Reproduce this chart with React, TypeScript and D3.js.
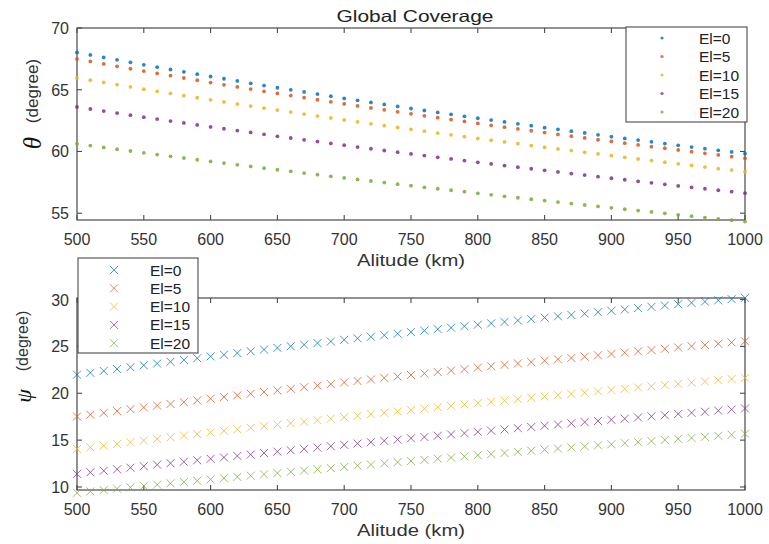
import React from 'react';
import * as d3 from 'd3';

const altitude = [500, 510, 520, 530, 540, 550, 560, 570, 580, 590, 600, 610, 620, 630, 640, 650, 660, 670, 680, 690, 700, 710, 720, 730, 740, 750, 760, 770, 780, 790, 800, 810, 820, 830, 840, 850, 860, 870, 880, 890, 900, 910, 920, 930, 940, 950, 960, 970, 980, 990, 1000];

const elLabels = ['El=0', 'El=5', 'El=10', 'El=15', 'El=20'];
const colors = ['#0072BD', '#D95319', '#EDB120', '#7E2F8E', '#77AC30'];

const theta0 = [68.02, 67.82, 67.62, 67.42, 67.22, 67.02, 66.83, 66.64, 66.45, 66.26, 66.07, 65.89, 65.71, 65.52, 65.34, 65.16, 64.99, 64.82, 64.65, 64.48, 64.30, 64.14, 63.97, 63.81, 63.65, 63.48, 63.32, 63.16, 63.01, 62.85, 62.69, 62.54, 62.39, 62.24, 62.09, 61.93, 61.79, 61.64, 61.50, 61.35, 61.20, 61.06, 60.92, 60.78, 60.64, 60.50, 60.36, 60.23, 60.09, 59.96, 59.82];
const theta5 = [67.48, 67.29, 67.09, 66.90, 66.70, 66.51, 66.32, 66.14, 65.95, 65.77, 65.58, 65.40, 65.23, 65.05, 64.87, 64.70, 64.53, 64.36, 64.19, 64.02, 63.85, 63.69, 63.53, 63.37, 63.21, 63.05, 62.89, 62.74, 62.58, 62.43, 62.27, 62.12, 61.97, 61.83, 61.68, 61.53, 61.38, 61.24, 61.10, 60.95, 60.81, 60.67, 60.53, 60.39, 60.26, 60.12, 59.98, 59.85, 59.72, 59.58, 59.45];
const theta10 = [65.95, 65.77, 65.59, 65.41, 65.23, 65.04, 64.87, 64.70, 64.52, 64.35, 64.18, 64.01, 63.84, 63.68, 63.51, 63.35, 63.19, 63.03, 62.87, 62.71, 62.55, 62.40, 62.24, 62.09, 61.94, 61.79, 61.64, 61.49, 61.35, 61.20, 61.05, 60.91, 60.77, 60.63, 60.48, 60.34, 60.21, 60.07, 59.93, 59.80, 59.66, 59.53, 59.39, 59.26, 59.13, 59.00, 58.87, 58.74, 58.61, 58.49, 58.36];
const theta15 = [63.60, 63.44, 63.27, 63.11, 62.94, 62.78, 62.62, 62.46, 62.31, 62.15, 61.99, 61.84, 61.69, 61.54, 61.39, 61.23, 61.09, 60.94, 60.80, 60.65, 60.51, 60.36, 60.22, 60.08, 59.94, 59.80, 59.67, 59.53, 59.40, 59.26, 59.12, 58.99, 58.86, 58.73, 58.60, 58.47, 58.34, 58.21, 58.09, 57.96, 57.83, 57.71, 57.58, 57.46, 57.34, 57.21, 57.09, 56.98, 56.86, 56.74, 56.62];
const theta20 = [60.62, 60.48, 60.33, 60.18, 60.04, 59.89, 59.75, 59.61, 59.47, 59.33, 59.19, 59.06, 58.92, 58.79, 58.65, 58.52, 58.39, 58.25, 58.12, 57.99, 57.86, 57.73, 57.61, 57.48, 57.35, 57.23, 57.10, 56.98, 56.86, 56.74, 56.61, 56.49, 56.37, 56.25, 56.13, 56.02, 55.90, 55.78, 55.67, 55.55, 55.44, 55.32, 55.21, 55.10, 54.99, 54.87, 54.76, 54.65, 54.54, 54.43, 54.32];

const psi0 = [21.98, 22.18, 22.38, 22.58, 22.78, 22.98, 23.17, 23.36, 23.55, 23.74, 23.93, 24.11, 24.29, 24.48, 24.66, 24.84, 25.01, 25.18, 25.35, 25.52, 25.70, 25.86, 26.03, 26.19, 26.35, 26.52, 26.68, 26.84, 26.99, 27.15, 27.31, 27.46, 27.61, 27.76, 27.91, 28.07, 28.21, 28.36, 28.50, 28.65, 28.80, 28.94, 29.08, 29.22, 29.36, 29.50, 29.64, 29.77, 29.91, 30.04, 30.18];
const psi5 = [17.52, 17.71, 17.91, 18.10, 18.30, 18.49, 18.68, 18.86, 19.05, 19.24, 19.42, 19.60, 19.77, 19.95, 20.13, 20.30, 20.47, 20.64, 20.81, 20.98, 21.15, 21.31, 21.47, 21.63, 21.79, 21.95, 22.11, 22.26, 22.42, 22.57, 22.73, 22.88, 23.03, 23.18, 23.32, 23.47, 23.62, 23.76, 23.90, 24.05, 24.19, 24.33, 24.47, 24.61, 24.74, 24.88, 25.02, 25.15, 25.28, 25.42, 25.55];
const psi10 = [14.05, 14.23, 14.41, 14.59, 14.78, 14.96, 15.13, 15.30, 15.48, 15.65, 15.83, 15.99, 16.16, 16.32, 16.49, 16.66, 16.81, 16.97, 17.13, 17.29, 17.45, 17.60, 17.76, 17.91, 18.06, 18.21, 18.36, 18.51, 18.66, 18.80, 18.95, 19.09, 19.23, 19.37, 19.52, 19.66, 19.80, 19.93, 20.07, 20.21, 20.34, 20.47, 20.61, 20.74, 20.87, 21.00, 21.13, 21.26, 21.39, 21.52, 21.64];
const psi15 = [11.40, 11.57, 11.73, 11.89, 12.06, 12.22, 12.38, 12.54, 12.69, 12.85, 13.01, 13.16, 13.31, 13.46, 13.62, 13.77, 13.91, 14.06, 14.20, 14.35, 14.50, 14.64, 14.78, 14.92, 15.06, 15.20, 15.33, 15.47, 15.61, 15.74, 15.88, 16.01, 16.14, 16.27, 16.40, 16.53, 16.66, 16.79, 16.92, 17.04, 17.17, 17.29, 17.42, 17.54, 17.66, 17.79, 17.91, 18.03, 18.15, 18.26, 18.38];
const psi20 = [9.38, 9.53, 9.67, 9.82, 9.96, 10.11, 10.25, 10.39, 10.53, 10.67, 10.81, 10.94, 11.08, 11.21, 11.35, 11.48, 11.62, 11.75, 11.88, 12.01, 12.14, 12.27, 12.39, 12.52, 12.65, 12.77, 12.90, 13.02, 13.14, 13.27, 13.39, 13.51, 13.63, 13.75, 13.87, 13.99, 14.10, 14.22, 14.33, 14.45, 14.56, 14.68, 14.79, 14.90, 15.02, 15.13, 15.24, 15.35, 15.46, 15.57, 15.68];

const xTicks = [500, 550, 600, 650, 700, 750, 800, 850, 900, 950, 1000];
const thetaTicks = [55, 60, 65, 70];
const psiTicks = [10, 15, 20, 25, 30];

const thetaSeries = [theta0, theta5, theta10, theta15, theta20];
const psiSeries = [psi0, psi5, psi10, psi15, psi20];

const FONT = '"Liberation Sans", Arial, Helvetica, sans-serif';
const AXIS = '#4a4a4a';
const TEXT = '#333333';

function Cross({ cx, cy, s, color, opacity }: { cx: number; cy: number; s: number; color: string; opacity: number }) {
  return (
    <path
      d={`M${cx - s},${cy - s}L${cx + s},${cy + s}M${cx - s},${cy + s}L${cx + s},${cy - s}`}
      stroke={color}
      strokeWidth={1}
      strokeOpacity={opacity}
      fill="none"
    />
  );
}

function Axes({ x, y, yTicks, top, bottom }: { x: any; y: any; yTicks: number[]; top: number; bottom: number }) {
  const [x0, x1] = x.range();
  const tl = 5;
  return (
    <g>
      <rect x={x0} y={top} width={x1 - x0} height={bottom - top} fill="none" stroke={AXIS} strokeWidth={1.2} />
      {xTicks.map((t) => (
        <g key={'x' + t}>
          <line x1={x(t)} x2={x(t)} y1={bottom} y2={bottom - tl} stroke={AXIS} strokeWidth={1.1} />
          <line x1={x(t)} x2={x(t)} y1={top} y2={top + tl} stroke={AXIS} strokeWidth={1.1} />
          <text x={x(t)} y={bottom + 25} textAnchor="middle" fontFamily={FONT} fontSize={16} fill={TEXT}>
            {t}
          </text>
        </g>
      ))}
      {yTicks.map((t) => (
        <g key={'y' + t}>
          <line x1={x0} x2={x0 + tl} y1={y(t)} y2={y(t)} stroke={AXIS} strokeWidth={1.1} />
          <line x1={x1} x2={x1 - tl} y1={y(t)} y2={y(t)} stroke={AXIS} strokeWidth={1.1} />
          <text x={69} y={y(t) + 6} textAnchor="end" fontFamily={FONT} fontSize={16} fill={TEXT}>
            {t}
          </text>
        </g>
      ))}
    </g>
  );
}

export default function App() {
  const x = d3.scaleLinear().domain([500, 1000]).range([77, 745]);
  const yT = d3.scaleLinear().domain([54.45, 70]).range([220, 28]);
  const yP = d3.scaleLinear().domain([9.68, 30.16]).range([490, 298]);

  return (
    <svg width={769} height={544} style={{ position: 'absolute', left: 0, top: 0, background: '#fff' }}>
      <rect width={769} height={544} fill="#fff" />

      {/* Top plot */}
      <Axes x={x} y={yT} yTicks={thetaTicks} top={28} bottom={220} />
      {thetaSeries.map((s, i) => (
        <g key={'ts' + i}>
          {s.map((v, j) => (
            <circle key={j} cx={x(altitude[j])} cy={yT(v)} r={1.9} fill={colors[i]} fillOpacity={0.85} />
          ))}
        </g>
      ))}
      <text x={415} y={22} textAnchor="middle" fontFamily={FONT} fontSize={16.5} fill="#222" textLength={157} lengthAdjust="spacingAndGlyphs">
        Global Coverage
      </text>
      <text x={411} y={266} textAnchor="middle" fontFamily={FONT} fontSize={16} fill={TEXT} textLength={108} lengthAdjust="spacingAndGlyphs">
        Alitude (km)
      </text>
      <text transform="translate(38,91) rotate(-90)" textAnchor="middle" fontFamily={FONT} fontSize={17} fill={TEXT}>
        (degree)
      </text>
      <text transform="translate(41,143) rotate(-90)" textAnchor="middle" fontFamily='"Liberation Serif", "DejaVu Serif", serif' fontStyle="italic" fontSize={25} fill="#111">
        θ
      </text>

      {/* Top legend */}
      <g>
        <rect x={626} y={27} width={121} height={95} fill="#fff" stroke={AXIS} strokeWidth={1.1} />
        {elLabels.map((l, i) => (
          <g key={'tl' + i}>
            <circle cx={662} cy={38 + i * 18.5} r={1.6} fill={colors[i]} fillOpacity={0.8} />
            <text x={699} y={38 + i * 18.5 + 5.5} fontFamily={FONT} fontSize={15.5} fill="#222">
              {l}
            </text>
          </g>
        ))}
      </g>

      {/* Bottom plot */}
      <Axes x={x} y={yP} yTicks={psiTicks} top={298} bottom={490} />
      {psiSeries.map((s, i) => (
        <g key={'ps' + i}>
          {s.map((v, j) => (
            <Cross key={j} cx={x(altitude[j])} cy={yP(v)} s={4} color={colors[i]} opacity={0.75} />
          ))}
        </g>
      ))}
      <text x={411} y={536} textAnchor="middle" fontFamily={FONT} fontSize={16} fill={TEXT} textLength={108} lengthAdjust="spacingAndGlyphs">
        Alitude (km)
      </text>
      <text transform="translate(28,341) rotate(-90)" textAnchor="middle" fontFamily={FONT} fontSize={16} fill={TEXT}>
        (degree)
      </text>
      <text transform="translate(31,396) rotate(-90)" textAnchor="middle" fontFamily='"Liberation Serif", "DejaVu Serif", serif' fontStyle="italic" fontSize={22} fill="#111">
        ψ
      </text>

      {/* Bottom legend */}
      <g>
        <rect x={78} y={258} width={120} height={95} fill="#fff" stroke={AXIS} strokeWidth={1.1} />
        {elLabels.map((l, i) => (
          <g key={'bl' + i}>
            <Cross cx={114} cy={270 + i * 18.3} s={4} color={colors[i]} opacity={0.7} />
            <text x={150} y={270 + i * 18.3 + 5.5} fontFamily={FONT} fontSize={15.5} fill="#222">
              {l}
            </text>
          </g>
        ))}
      </g>
    </svg>
  );
}
